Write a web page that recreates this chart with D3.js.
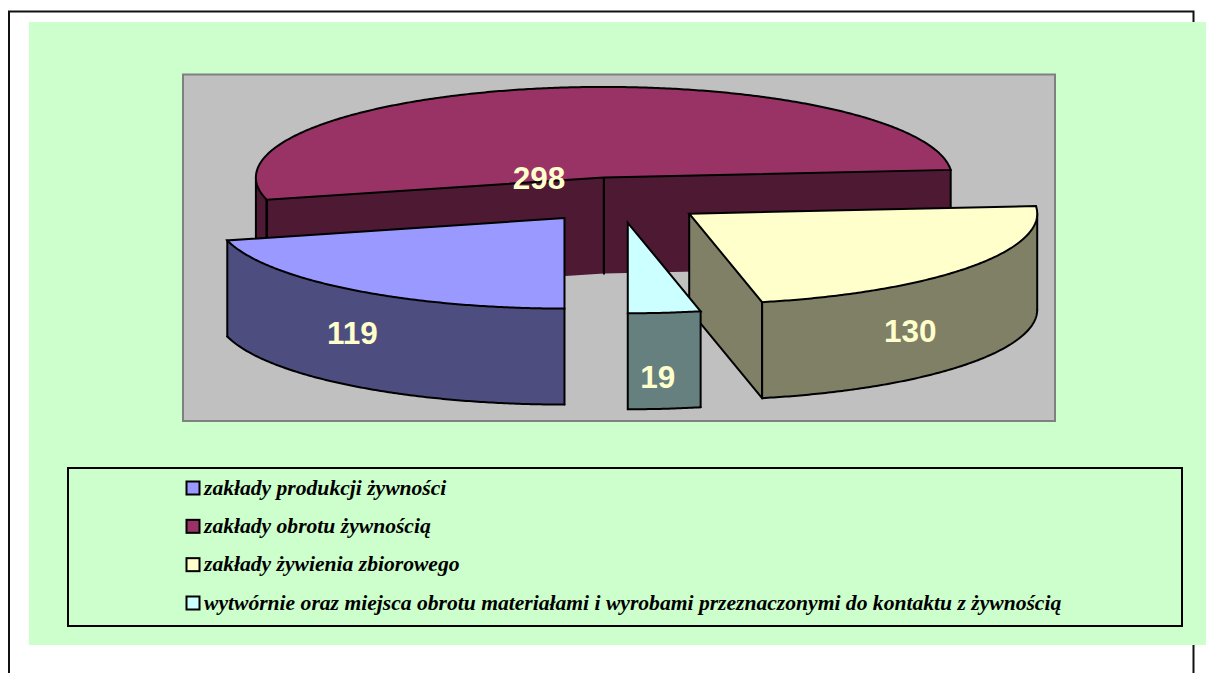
<!DOCTYPE html>
<html><head><meta charset="utf-8">
<style>html,body{margin:0;padding:0;background:#fff;overflow:hidden}svg{display:block}</style>
<script src="https://cdnjs.cloudflare.com/ajax/libs/d3/7.8.5/d3.min.js"></script>
</head><body><svg id="c" width="1206" height="673"></svg>
<script>
const categories = ["zakłady produkcji żywności","zakłady obrotu żywnością","zakłady żywienia zbiorowego","wytwórnie oraz miejsca obrotu materiałami i wyrobami przeznaczonymi do kontaktu z żywnością"];
const values = [119,298,130,19];
const topColors = ["#9999FF","#993366","#FFFFCC","#CCFFFF"];
const sideColors = ["#4D4D80","#4D1933","#808066","#668080"];
const labelNudges = [[-212,126],[-65,12],[221,128],[30,165]];

const W=1206,H=673;
const svg=d3.select("#c");
const cx=618.5,cy=200,rx=348,ry=90.5,depth=96,explode=0.253;
const px=d3.scaleLinear().domain([-1,1]).range([-rx,rx]);
const py=d3.scaleLinear().domain([-1,1]).range([-ry,ry]);

// page frame and backgrounds
svg.append("path").attr("d",`M9,${H}V11.5H1193.5V${H}`).attr("fill","none").attr("stroke","#111").attr("stroke-width",2);
svg.append("rect").attr("x",29).attr("y",22).attr("width",1177).attr("height",623).attr("fill","#CCFFCC");
svg.append("rect").attr("x",183).attr("y",74.5).attr("width",872).attr("height",346.5).attr("fill","#C0C0C0").attr("stroke","#808080").attr("stroke-width",2);

const pie=d3.pie().sort(null).startAngle(Math.PI).endAngle(3*Math.PI);
const arcs=pie(values);
const line=d3.line();
const STEP=Math.PI/360;
function samples(a0,a1){const n=Math.max(2,Math.ceil((a1-a0)/STEP));return d3.range(n+1).map(i=>a0+(a1-a0)*i/n);}
arcs.forEach(a=>{
  const mid=(a.startAngle+a.endAngle)/2;
  a.ox=cx+px(explode*Math.sin(mid));
  a.oy=cy+py(-explode*Math.cos(mid));
});
const rim=(a,t,d=0)=>[a.ox+px(Math.sin(t)),a.oy+py(-Math.cos(t))+d];
const apex=(a,d=0)=>[a.ox,a.oy+d];
const sw=2;
const frontHalves=[[Math.PI/2,3*Math.PI/2],[5*Math.PI/2,7*Math.PI/2]];

function drawSlice(a,i){
  const g=svg.append("g");
  const side=sideColors[i], stroke="#000";
  const keepBase=i!==1;
  const edges=[];
  // cut faces
  [[a.startAngle,Math.sin(a.startAngle)<-1e-6],[a.endAngle,Math.sin(a.endAngle)>1e-6]].forEach(([t,vis])=>{
    if(!vis) return;
    const pts=[apex(a),rim(a,t),rim(a,t,depth),apex(a,depth)];
    g.append("path").attr("d",line(pts)+"Z").attr("fill",side);
    edges.push([apex(a),apex(a,depth)],[rim(a,t),rim(a,t,depth)]);
    if(keepBase) edges.push([apex(a,depth),rim(a,t,depth)]);
  });
  // outer wall (front half of the rim only)
  frontHalves.forEach(([f0,f1])=>{
    const w0=Math.max(a.startAngle,f0), w1=Math.min(a.endAngle,f1);
    if(w1<=w0) return;
    const ts=samples(w0,w1);
    const up=ts.map(t=>rim(a,t)), dn=ts.map(t=>rim(a,t,depth)).reverse();
    g.append("path").attr("d",line(up.concat(dn))+"Z").attr("fill",side);
    edges.push([rim(a,w0),rim(a,w0,depth)],[rim(a,w1),rim(a,w1,depth)]);
    if(keepBase) edges.push(ts.map(t=>rim(a,t,depth)));
  });
  edges.forEach(e=>g.append("path").attr("d",line(e)).attr("fill","none").attr("stroke",stroke).attr("stroke-width",sw).attr("stroke-linejoin","round").attr("stroke-linecap","round"));
  // top face
  const topPts=[apex(a)].concat(samples(a.startAngle,a.endAngle).map(t=>rim(a,t)));
  g.append("path").attr("d",line(topPts)+"Z").attr("fill",topColors[i]).attr("stroke",stroke).attr("stroke-width",sw).attr("stroke-linejoin","miter");
}
[1,2,0,3].forEach(i=>drawSlice(arcs[i],i));

// value labels
arcs.forEach((a,i)=>{
  svg.append("text").attr("x",a.ox+labelNudges[i][0]).attr("y",a.oy+labelNudges[i][1])
    .attr("text-anchor","middle").attr("font-family","'Liberation Sans',Arial,sans-serif").attr("font-weight","bold")
    .attr("font-size",31.5).attr("fill","#FFFFCC").text(values[i]);
});

// legend
svg.append("rect").attr("x",68).attr("y",468).attr("width",1114).attr("height",158).attr("fill","none").attr("stroke","#000").attr("stroke-width",2);
const rowY=d3.scalePoint().domain(d3.range(categories.length)).range([488,603]);
categories.forEach((c,i)=>{
  svg.append("rect").attr("x",186.5).attr("y",rowY(i)-6.5).attr("width",13).attr("height",13)
    .attr("fill",topColors[i]).attr("stroke","#000").attr("stroke-width",2);
  svg.append("text").attr("x",204).attr("y",rowY(i)+6.5).attr("font-family","'Liberation Serif','Times New Roman',serif")
    .attr("font-style","italic").attr("font-weight","bold").attr("font-size",21.6).attr("fill","#000").text(c);
});
</script></body></html>
